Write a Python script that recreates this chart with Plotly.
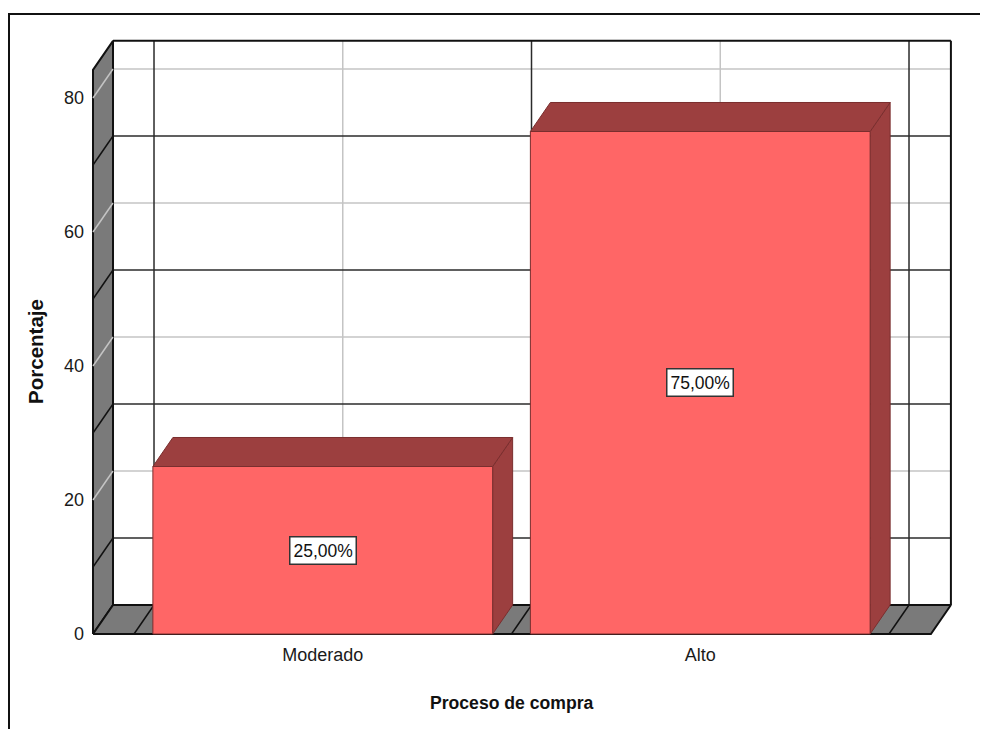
import plotly.graph_objects as go

# ---------------- data ----------------
categories = ["Moderado", "Alto"]
percentages = [25.0, 75.0]
value_labels = ["25,00%", "75,00%"]
y_ticks = [0, 20, 40, 60, 80]
light_grid = [20, 40, 60, 80]
dark_grid = [10, 30, 50, 70]
x_title = "Proceso de compra"
y_title = "Porcentaje"

# ---------------- geometry (data units) ----------------
DX = 0.053      # depth offset along category axis
DY = 4.33       # depth offset along value axis
WALL_TOP = 84.2
X_LEFT = -0.1086
X_RIGHT = 2.111
BAR_PAD = 0.05

# ---------------- styles ----------------
FONT = "Liberation Sans, Arial, sans-serif"
BAR_FRONT = "#FF6666"
BAR_DARK = "#9C3F3F"
BAR_EDGE = "#7A2E2E"
WALL = "#7A7A7A"
DARK_LINE = "#2b2b2b"
LIGHT_LINE = "#C4C4C4"

# page offset (body margin) and plot area in screenshot pixels
OFF = 8
W, H = 988, 729
L, R, T, B = 88, 962, 34, 642
PX0, PX_PER_CAT = 134.0, 377.5
PY0, PX_PER_UNIT = 634.0, 6.7
x_range = [(L - PX0) / PX_PER_CAT, (R - PX0) / PX_PER_CAT]
y_range = [(PY0 - B) / PX_PER_UNIT, (PY0 - T) / PX_PER_UNIT]


def px_to_paper_x(px):
    return (px - L) / (R - L)


def px_to_paper_y(py):
    return (B - py) / (B - T)


fig = go.Figure()


def add_lines(segments, color, width):
    xs, ys = [], []
    for (x0, y0), (x1, y1) in segments:
        xs += [x0, x1, None]
        ys += [y0, y1, None]
    fig.add_trace(go.Scatter(x=xs, y=ys, mode="lines",
                             line=dict(color=color, width=width),
                             hoverinfo="skip", showlegend=False))


def add_poly(pts, fill, edge, width):
    xs = [p[0] for p in pts] + [pts[0][0]]
    ys = [p[1] for p in pts] + [pts[0][1]]
    fig.add_trace(go.Scatter(x=xs, y=ys, mode="lines", fill="toself",
                             fillcolor=fill, line=dict(color=edge, width=width),
                             hoverinfo="skip", showlegend=False))


bx0, bx1 = X_LEFT + DX, X_RIGHT + DX
centers = [i + 0.5 for i in range(len(categories))]
bounds = list(range(len(categories) + 1))

# back wall light grid
add_lines([((bx0, v + DY), (bx1, v + DY)) for v in light_grid]
          + [((c + DX, DY), (c + DX, WALL_TOP + DY)) for c in centers],
          LIGHT_LINE, 1.5)
# back wall dark grid
add_lines([((bx0, v + DY), (bx1, v + DY)) for v in dark_grid]
          + [((b + DX, DY), (b + DX, WALL_TOP + DY)) for b in bounds],
          DARK_LINE, 1.5)
# back wall frame
add_lines([((bx0, WALL_TOP + DY), (bx1, WALL_TOP + DY)),
           ((bx1, WALL_TOP + DY), (bx1, DY))], "#111111", 2)

# left wall
add_poly([(X_LEFT, 0), (X_LEFT, WALL_TOP), (bx0, WALL_TOP + DY), (bx0, DY)],
         WALL, "#111111", 2)
add_lines([((X_LEFT, v), (bx0, v + DY)) for v in light_grid], LIGHT_LINE, 1.5)
add_lines([((X_LEFT, v), (bx0, v + DY)) for v in dark_grid], "#111111", 1.5)

# floor
add_poly([(X_LEFT, 0), (X_RIGHT, 0), (bx1, DY), (bx0, DY)], WALL, "#111111", 2)
add_lines([((b, 0), (b + DX, DY)) for b in bounds], "#111111", 1.5)

# bars
for i, v in enumerate(percentages):
    x0, x1 = i + BAR_PAD, i + 1 - BAR_PAD
    add_poly([(x1, 0), (x1, v), (x1 + DX, v + DY), (x1 + DX, DY)],
             BAR_DARK, BAR_EDGE, 1)
    add_poly([(x0, v), (x1, v), (x1 + DX, v + DY), (x0 + DX, v + DY)],
             BAR_DARK, BAR_EDGE, 1)
    add_poly([(x0, 0), (x1, 0), (x1, v), (x0, v)], BAR_FRONT, BAR_EDGE, 1)

# value labels
for i, (v, lab) in enumerate(zip(percentages, value_labels)):
    fig.add_annotation(x=i + 0.5, y=v / 2, text=lab, showarrow=False,
                       xanchor="center", yanchor="middle",
                       font=dict(family=FONT, size=17.5, color="#111111"),
                       bgcolor="white", bordercolor="#333333", borderwidth=1.5,
                       borderpad=3)

# axis titles
fig.add_annotation(x=1.0, xref="x", y=px_to_paper_y(703), yref="paper",
                   xanchor="center", yanchor="middle",
                   text=x_title, showarrow=False,
                   font=dict(family=FONT, size=17.6, color="#111111",
                             weight="bold"))
fig.add_annotation(x=px_to_paper_x(36), xref="paper", y=WALL_TOP / 2, yref="y",
                   xanchor="center", yanchor="middle",
                   text=y_title, textangle=-90, showarrow=False,
                   font=dict(family=FONT, size=20.5, color="#111111",
                             weight="bold"))

# outer frame
fig.add_shape(type="rect", xref="paper", yref="paper",
              x0=px_to_paper_x(9), y0=px_to_paper_y(14),
              x1=px_to_paper_x(1000), y1=px_to_paper_y(760),
              line=dict(color="#111111", width=2), layer="above")

fig.update_layout(
    width=W - OFF, height=H - OFF,
    margin=dict(l=L - OFF, r=W - R, t=T - OFF, b=H - B, autoexpand=False),
    paper_bgcolor="white", plot_bgcolor="white",
    showlegend=False,
    xaxis=dict(range=x_range, tickvals=centers, ticktext=categories,
               showgrid=False, zeroline=False, showline=False, ticks="",
               tickfont=dict(family=FONT, size=18, color="#1a1a1a"),
               fixedrange=True),
    yaxis=dict(range=y_range, tickvals=y_ticks, showgrid=False,
               zeroline=False, showline=False, ticks="",
               ticklabelstandoff=3,
               tickfont=dict(family=FONT, size=18, color="#1a1a1a"),
               fixedrange=True),
)

fig.write_html("out.html")
